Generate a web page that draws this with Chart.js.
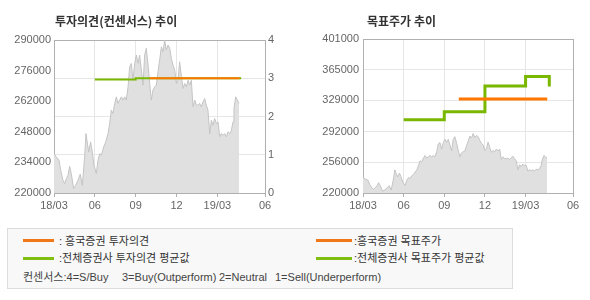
<!DOCTYPE html>
<html>
<head>
<meta charset="utf-8">
<script src="https://cdn.jsdelivr.net/npm/chart.js@4.4.1/dist/chart.umd.min.js"></script>
<style>
  body { margin: 0; background: #fff; font-family: "Liberation Sans", "Noto Sans CJK KR", sans-serif; }
  #wrap { position: relative; width: 590px; height: 300px; overflow: hidden; }
  canvas { position: absolute; top: 0; }
  .title { position: absolute; top: 12px; font: bold 12px "Noto Sans CJK KR", sans-serif; color: #333; line-height: 18px; white-space: pre; }
  .legend { position: absolute; left: 7px; top: 228px; width: 504px; height: 59px; border: 1px solid #dcdcdc; background: #f8f8f8; }
  .sw { position: absolute; height: 3px; }
  .lt { position: absolute; font-size: 11px; color: #333; line-height: 14px; white-space: pre; }
  .cs { color: #444; }
</style>
</head>
<body>
<div id="wrap">
  <canvas id="opinion" width="295" height="220" style="left:0"></canvas>
  <canvas id="target" width="295" height="220" style="left:295px"></canvas>
  <div class="title" style="left:55px">투자의견(컨센서스) 추이</div>
  <div class="title" style="left:367px">목표주가 추이</div>
  <div class="legend"></div>
  <div class="sw" style="left:23px;top:239px;width:31px;background:#f07818"></div>
  <div class="lt" style="left:59px;top:234px">: 흥국증권 투자의견</div>
  <div class="sw" style="left:23px;top:257px;width:31px;background:#80be10"></div>
  <div class="lt" style="left:59px;top:251px">:전체증권사 투자의견 평균값</div>
  <div class="sw" style="left:316px;top:239px;width:36px;background:#f07818"></div>
  <div class="lt" style="left:354px;top:234px">:흥국증권 목표주가</div>
  <div class="sw" style="left:316px;top:257px;width:36px;background:#80be10"></div>
  <div class="lt" style="left:354px;top:251px">:전체증권사 목표주가 평균값</div>
  <div class="lt cs" style="left:23px;top:270px">컨센서스:4=S/Buy</div>
  <div class="lt cs" style="left:122px;top:270px">3=Buy(Outperform)</div>
  <div class="lt cs" style="left:219px;top:270px">2=Neutral</div>
  <div class="lt cs" style="left:275px;top:270px">1=Sell(Underperform)</div>
</div>
<script>
// x = months since 2018/03
const xTickPos = [0, 3, 6, 9, 12, 15.5];
const xTickLabels = ['18/03', '06', '09', '12', '19/03', '06'];

const opinionPriceTicks = [220000, 234000, 248000, 262000, 276000, 290000];
const opinionScoreTicks = [0, 1, 2, 3, 4];
const targetTicks = [220000, 256000, 292000, 329000, 365000, 401000];

// share price (same series in both charts)
const priceMonths = [0.00,0.17,0.37,0.49,0.66,0.78,0.91,1.03,1.15,1.27,
  1.44,1.59,1.76,1.93,2.08,2.25,2.35,2.42,2.55,2.69,
  2.79,2.94,3.11,3.23,3.36,3.48,3.65,3.80,3.97,4.09,
  4.21,4.33,4.46,4.58,4.70,4.82,4.95,5.07,5.19,5.31,
  5.44,5.56,5.68,5.80,5.93,6.05,6.17,6.29,6.42,6.54,
  6.66,6.78,6.91,7.03,7.15,7.27,7.40,7.52,7.64,7.76,
  7.89,8.01,8.13,8.25,8.38,8.50,8.62,8.74,8.87,8.99,
  9.11,9.23,9.36,9.48,9.60,9.72,9.85,9.97,10.09,10.21,
  10.34,10.46,10.58,10.70,10.82,10.95,11.07,11.19,11.31,11.44,
  11.56,11.68,11.80,11.93,12.05,12.17,12.29,12.42,12.54,12.66,
  12.78,12.91,13.03,13.15,13.22,13.35,13.47,13.59];
const prices = [238000,236500,235000,230400,225800,224300,226600,228100,232200,228900,
  222000,223500,225800,228600,223500,236500,247200,244100,238800,243400,
  239600,232700,228900,235000,238000,237300,241100,243400,247200,251800,
  257900,256400,261000,264000,261000,262500,264000,262500,264000,262500,
  268600,277800,279300,271600,279300,283100,279300,283100,276200,269400,
  283100,286200,278500,270100,262500,267100,268600,269400,275500,280800,
  286900,284600,290000,285400,287700,286200,281600,278500,276200,270100,
  271600,280000,273200,267800,270100,268600,271600,269400,271600,259400,
  262500,260200,260200,261000,259400,261700,263200,260200,257900,247200,
  253300,251000,254100,251800,252500,245700,247200,246400,247200,245700,
  248000,247200,248700,252500,258700,264000,262500,261000];

// 흥국증권 투자의견 / 전체증권사 평균
const hkOpinionMonths = [7.03, 13.63];
const hkOpinion = [3, 3];
const avgOpinionMonths = [3, 6, 13.75];
const avgOpinion = [2.97, 3, 3];

// 흥국증권 목표주가 / 전체증권사 평균
const hkTargetMonths = [7.07, 13.6];
const hkTarget = [330500, 330500];
const avgTargetMonths = [3, 6, 9, 12, 13.75];
const avgTarget = [306000, 315600, 345900, 356900, 345100];

const ORANGE = '#ff7700';
const GREEN = '#7ab800';
const GRID = '#e6e6e6';
const AXIS = '#b0b0b0';
const tickFont = { family: 'Liberation Sans', size: 11 };

const xy = (xs, ys) => xs.map((x, i) => ({ x: x, y: ys[i] }));
const fixTicks = arr => scale => { scale.ticks = arr.map(v => ({ value: v })); };
const plain = v => String(v);

const frame = {
  id: 'frame',
  beforeDatasetsDraw(chart) {
    const a = chart.chartArea, ctx = chart.ctx;
    ctx.save();
    ctx.strokeStyle = AXIS;
    ctx.lineWidth = 1;
    const l = Math.round(a.left), t = Math.round(a.top), r = Math.round(a.right), b = Math.round(a.bottom);
    ctx.strokeRect(l + 0.5, t + 0.5, r - l, b - t);
    ctx.restore();
  }
};

function xScale() {
  return {
    type: 'linear', min: 0, max: 15.5,
    afterBuildTicks: fixTicks(xTickPos),
    afterFit: s => { s.height = 27; },
    ticks: { font: tickFont, color: '#666', autoSkip: false, maxRotation: 0, padding: 2,
      callback: v => xTickLabels[xTickPos.indexOf(v)] },
    grid: { color: GRID, tickColor: AXIS, tickLength: 4 },
    border: { color: AXIS }
  };
}

function priceSet(axis) {
  return { label: '주가', data: xy(priceMonths, prices), yAxisID: axis, order: 5,
    fill: 'start', backgroundColor: '#e0e0e0', borderColor: '#c4c4c4', borderWidth: 1,
    pointRadius: 0, tension: 0 };
}

const common = {
  responsive: false, animation: false,
  plugins: { legend: { display: false }, tooltip: { enabled: false } }
};

new Chart(document.getElementById('opinion'), {
  type: 'line',
  data: {
    datasets: [
      { label: '흥국증권 투자의견', data: xy(hkOpinionMonths, hkOpinion), yAxisID: 'y2', order: 0,
        borderColor: ORANGE, borderWidth: 2, pointRadius: 0 },
      { label: '전체증권사 투자의견 평균값', data: xy(avgOpinionMonths, avgOpinion), yAxisID: 'y2', order: 1,
        stepped: 'before', borderColor: GREEN, borderWidth: 2, pointRadius: 0 },
      priceSet('y')
    ]
  },
  options: {
    ...common,
    layout: { padding: { top: 40, left: 0, right: 0, bottom: 0 } },
    scales: {
      x: xScale(),
      y: {
        position: 'left', min: 220000, max: 290000,
        afterBuildTicks: fixTicks(opinionPriceTicks),
        afterFit: s => { s.width = 54; },
        ticks: { font: tickFont, color: '#666', padding: 3, callback: plain },
        grid: { drawOnChartArea: false, drawTicks: false },
        border: { color: AXIS }
      },
      y2: {
        position: 'right', min: 0, max: 4,
        afterBuildTicks: fixTicks(opinionScoreTicks),
        afterFit: s => { s.width = 30; },
        ticks: { font: tickFont, color: '#666', padding: 3, callback: plain },
        grid: { color: GRID, drawTicks: false },
        border: { color: AXIS }
      }
    }
  },
  plugins: [frame]
});

new Chart(document.getElementById('target'), {
  type: 'line',
  data: {
    datasets: [
      { label: '흥국증권 목표주가', data: xy(hkTargetMonths, hkTarget), yAxisID: 'y', order: 0,
        borderColor: ORANGE, borderWidth: 3, pointRadius: 0 },
      { label: '전체증권사 목표주가 평균값', data: xy(avgTargetMonths, avgTarget), yAxisID: 'y', order: 1,
        stepped: 'before', borderColor: GREEN, borderWidth: 3, pointRadius: 0 },
      priceSet('y')
    ]
  },
  options: {
    ...common,
    layout: { padding: { top: 39, left: 0, right: 17, bottom: 0 } },
    scales: {
      x: xScale(),
      y: {
        position: 'left', min: 220000, max: 401000,
        afterBuildTicks: fixTicks(targetTicks),
        afterFit: s => { s.width = 68; },
        ticks: { font: tickFont, color: '#666', padding: 4, callback: plain },
        grid: { color: GRID, drawTicks: false },
        border: { color: AXIS }
      }
    }
  },
  plugins: [frame]
});
</script>
</body>
</html>
